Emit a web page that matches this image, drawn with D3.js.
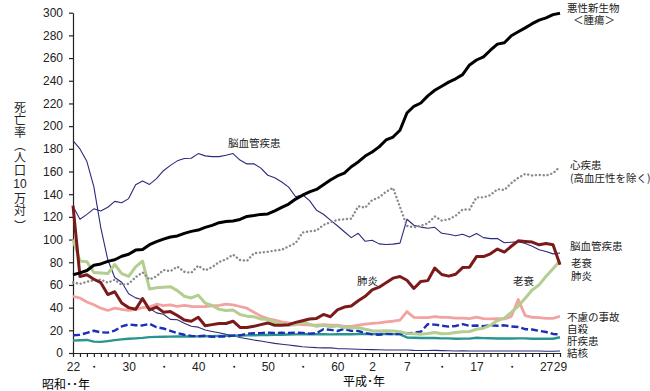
<!DOCTYPE html>
<html>
<head>
<meta charset="utf-8">
<script src="https://cdn.jsdelivr.net/npm/d3@7"></script>
<style>
  body { margin: 0; background: #fff; }
  svg { display: block; }
  .vert { writing-mode: vertical-rl; }
</style>
</head>
<body>
<svg width="650" height="391"></svg>
<script>
/*------------------------
  ------ VARIABLES -------
  ------------------------*/

// years : 昭和22 (1947) -> 平成29 (2017)
var years = d3.range(1947, 2018);

// x tick labels
var tick_years  = [1947, 1950, 1955, 1960, 1965, 1970, 1975, 1980, 1985, 1990, 1995, 2000, 2005, 2010, 2015, 2017];
var tick_labels = ["22", "・", "30", "・", "40", "・", "50", "・", "60", "2", "7", "・", "17", "・", "27", "29"];

// y ticks
var y_ticks = d3.range(0, 301, 20);

// death rates (per 100 000), one value per year
var cancer = [69.0,70.6,72.7,77.4,78.5,80.8,82.2,85.3,87.1,90.7,
              91.3,95.5,98.2,100.4,102.3,103.2,105.5,107.2,108.4,110.7,
              112.5,114.9,115.9,116.3,117.7,120.4,121.2,122.2,122.6,125.3,
              128.4,131.3,135.7,139.1,142.0,144.2,148.3,152.5,156.1,158.5,
              164.2,168.4,173.6,177.2,181.7,187.8,190.4,196.4,211.6,217.5,
              220.4,226.7,231.6,235.2,238.8,241.7,245.4,253.9,258.3,261.0,
              266.9,272.3,273.5,279.7,283.2,286.6,290.3,293.5,295.5,298.3,
              299.5];
var heart = [62.2,60.9,62.8,64.2,64.7,62.0,64.6,60.1,60.9,66.9,
             71.1,64.8,67.6,73.2,72.1,76.2,71.6,70.7,77.0,72.8,
             75.7,80.2,82.6,86.7,82.0,81.2,87.9,88.6,89.2,90.3,
             91.0,94.0,96.9,106.2,107.3,107.9,112.9,115.2,117.3,117.9,
             118.4,129.4,128.1,134.8,137.2,142.2,145.6,128.6,112.0,110.8,
             112.2,114.3,120.4,116.8,117.8,121.0,126.5,126.5,137.2,137.2,
             139.2,144.4,143.7,149.8,154.5,157.9,156.5,157.0,156.5,158.4,
             164.3];
var cerebro = [129.4,117.9,122.2,127.1,125.2,128.5,133.7,132.4,136.1,148.4,
               151.7,148.6,153.7,160.7,165.4,169.4,171.4,171.7,175.8,173.8,
               173.1,173.1,174.4,175.8,170.1,166.7,166.9,163.0,156.7,154.5,
               150.7,146.2,137.7,139.5,134.3,125.9,122.3,117.2,112.2,106.9,
               101.7,105.5,98.5,99.4,96.2,95.6,96.0,96.9,117.9,112.6,
               111.0,110.0,110.8,105.5,104.7,103.4,104.7,102.3,105.3,101.7,
               100.8,100.9,97.2,97.7,98.2,96.5,94.1,91.1,89.4,87.4,
               88.2];
var pneumonia = [130.0,67.5,69.0,65.0,62.0,51.5,54.0,44.0,40.0,38.5,
                 48.0,38.0,40.5,36.0,36.5,33.0,29.0,28.0,31.5,24.0,
                 25.0,26.0,26.0,28.0,22.5,22.5,23.5,25.0,26.5,24.5,
                 24.5,25.0,27.0,28.5,30.0,30.5,34.0,32.0,38.0,40.5,
                 41.5,46.0,50.0,55.6,58.0,62.0,66.0,67.4,64.1,56.9,
                 63.1,63.8,74.9,69.2,67.8,69.4,75.3,75.7,85.0,85.0,
                 87.4,91.6,89.0,94.1,98.9,98.4,97.8,95.4,96.5,95.4,
                 77.7];
var senility = [100.0,81.0,80.5,71.0,70.5,70.0,78.0,70.0,67.5,76.0,
                81.0,56.5,57.5,58.0,58.5,55.0,50.0,48.5,51.0,44.0,
                42.0,38.5,37.5,38.0,34.0,32.5,32.0,30.0,29.5,27.5,
                25.5,24.5,25.0,27.5,25.5,23.5,24.5,23.0,24.0,22.5,
                22.0,22.5,21.0,19.7,19.5,19.7,19.3,18.8,17.3,16.9,
                16.5,17.1,18.1,16.9,17.2,18.0,18.7,19.0,20.9,21.9,
                24.4,28.6,30.7,35.9,41.4,48.2,55.5,60.1,67.7,74.2,
                81.3];
var accident = [50.0,48.5,45.0,42.5,39.5,37.5,39.5,38.5,37.5,38.5,
                40.0,40.5,43.0,41.7,42.5,41.0,42.0,41.0,40.9,41.0,
                41.5,42.0,43.0,42.5,41.0,39.5,36.0,32.5,30.3,29.0,
                27.5,26.5,25.5,25.1,24.5,24.5,25.0,24.5,24.6,23.5,
                23.5,24.5,25.5,26.2,26.5,27.5,28.0,29.0,36.5,31.4,
                31.1,31.1,32.0,31.4,31.4,30.7,30.7,30.3,31.6,30.3,
                30.1,30.3,30.0,32.2,47.1,33.0,31.5,31.1,30.6,30.6,
                32.4];
var suicide = [15.7,16.0,17.8,19.6,18.2,18.0,19.8,23.4,25.2,24.5,
               24.3,25.7,22.7,21.6,19.6,17.5,16.1,15.1,14.7,15.2,
               14.2,14.5,14.5,15.3,15.6,17.0,17.4,17.5,18.0,17.6,
               17.9,17.6,18.0,17.7,17.1,17.5,21.0,20.4,19.4,21.2,
               19.6,19.4,17.7,16.4,16.1,16.9,16.6,16.9,17.2,17.8,
               18.8,25.4,25.0,24.1,23.3,23.8,25.5,24.0,24.2,23.7,
               24.4,24.0,24.4,23.4,22.9,21.0,20.7,19.5,18.5,16.8,
               16.4];
var liver = [10.9,11.2,11.5,10.0,9.8,10.5,11.3,12.0,12.6,12.9,
             13.3,14.0,14.2,14.3,14.4,14.5,14.6,14.6,14.7,14.8,
             14.9,15.0,15.1,15.2,15.4,15.5,15.6,15.8,15.9,16.0,
             16.1,16.3,16.4,16.5,16.6,16.5,16.5,16.4,16.5,16.6,
             16.5,16.6,16.7,16.9,16.8,16.8,16.6,16.4,13.7,13.4,
             13.2,13.2,13.2,12.9,12.9,12.6,12.7,12.7,13.5,13.1,
             13.0,12.8,12.8,12.8,12.9,12.9,12.6,12.6,12.6,12.6,
             13.9];
var tuberculosis = [187.2,179.9,168.8,146.4,110.3,82.2,66.5,62.4,52.3,48.6,
                    46.9,39.4,35.4,34.2,29.6,29.3,26.3,23.6,22.8,20.3,
                    19.0,17.8,16.4,15.4,13.7,12.5,11.4,10.6,9.5,8.5,
                    7.7,7.0,6.3,5.5,5.1,4.7,4.5,4.5,3.9,3.8,
                    3.5,3.3,3.1,3.0,2.8,2.7,2.6,2.6,2.6,2.3,
                    2.2,2.2,2.3,2.1,2.0,1.8,1.9,1.8,1.8,1.8,
                    1.7,1.8,1.7,1.7,1.7,1.7,1.7,1.7,1.5,1.5,
                    1.8];

// display settings
var margin = {left: 73, right: 560, top: 12.7, bottom: 353};
var font_num = "'Liberation Sans', Arial, sans-serif";
var font_jp  = "'Noto Sans CJK JP', sans-serif";

// drawing order, styles
var series = [
    {values: tuberculosis, color: "#2b2b7c", width: 1.1, dash: null},
    {values: cerebro,      color: "#2b2b7c", width: 1.1, dash: null},
    {values: liver,        color: "#2a9590", width: 2.4, dash: null},
    {values: suicide,      color: "#1c2fb8", width: 2.4, dash: "7 3"},
    {values: accident,     color: "#f3a2a2", width: 2.8, dash: null},
    {values: senility,     color: "#b4cd90", width: 3,   dash: null},
    {values: heart,        color: "#8a8a8a", width: 2.4, dash: "0.1 3.8", cap: "round"},
    {values: pneumonia,    color: "#7c1a1a", width: 3,   dash: null},
    {values: cancer,       color: "#000000", width: 3,   dash: null}
];

// labels, one text block per group of stacked lines
var label_blocks = [
    [{t: "悪性新生物", x: 567, y: 6.5}, {t: "＜腫瘍＞", x: 573, y: 18.5}],
    [{t: "心疾患", x: 570, y: 163.5}, {t: "(高血圧性を除く)", x: 570, y: 177}],
    [{t: "脳血管疾患", x: 570, y: 245}],
    [{t: "老衰", x: 571, y: 262}, {t: "肺炎", x: 571, y: 274.5}],
    [{t: "不慮の事故", x: 567, y: 316}, {t: "自殺", x: 567, y: 327.5},
     {t: "肝疾患", x: 567, y: 339.5}, {t: "結核", x: 567, y: 352}],
    [{t: "脳血管疾患", x: 228, y: 142}],
    [{t: "肺炎", x: 357, y: 280}],
    [{t: "老衰", x: 513, y: 280}]
];

// y title : vertical runs + the horizontal "10"
var y_title_runs = [
    {t: "死亡率（人口", y: 101, vertical: true},
    {t: "10",          y: 184, vertical: false},
    {t: "万対 ）",      y: 192, vertical: true}
];

var x = d3.scaleLinear().domain([1947, 2017]).range([margin.left, margin.right]);
var y = d3.scaleLinear().domain([0, 300]).range([margin.bottom, margin.top]);

/*------------------------
  -------- DRAW ----------
  ------------------------*/

var svg = d3.select("svg");

function display_axes() {
    var xa = svg.append("g")
        .attr("transform", "translate(0," + margin.bottom + ")")
        .call(d3.axisBottom(x)
              .tickValues(years)
              .tickSize(4)
              .tickSizeOuter(0)
              .tickPadding(5)
              .tickFormat(function(d) {
                  var i = tick_years.indexOf(d);
                  return i < 0 ? "" : tick_labels[i];
              }));
    xa.selectAll("text")
        .attr("font-family", font_num)
        .attr("font-size", 12)
        .attr("fill", "#222");

    var ya = svg.append("g")
        .attr("transform", "translate(" + margin.left + ",0)")
        .call(d3.axisLeft(y)
              .tickValues(y_ticks)
              .tickSize(4)
              .tickSizeOuter(0)
              .tickPadding(6));
    ya.selectAll("text")
        .attr("font-family", font_num)
        .attr("font-size", 12)
        .attr("fill", "#222");

    svg.selectAll(".domain, .tick line")
        .attr("stroke", "#222")
        .attr("stroke-width", 1.2);

    // axis titles
    svg.append("text")
        .attr("x", 42).attr("y", 383)
        .attr("font-family", font_jp).attr("font-size", 12)
        .attr("dominant-baseline", "central")
        .text("昭和･･年");
    svg.append("text")
        .attr("x", 343).attr("y", 380)
        .attr("font-family", font_jp).attr("font-size", 12)
        .attr("dominant-baseline", "central")
        .text("平成･年");

    svg.append("g").selectAll("text")
        .data(y_title_runs)
        .enter()
        .append("text")
        .attr("class", function(d) { return d.vertical ? "vert" : null; })
        .attr("x", 20)
        .attr("y", function(d) { return d.y; })
        .attr("text-anchor", function(d) { return d.vertical ? "start" : "middle"; })
        .attr("dominant-baseline", function(d) { return d.vertical ? null : "central"; })
        .attr("letter-spacing", function(d) { return d.vertical ? 0.7 : null; })
        .attr("font-family", function(d) { return d.vertical ? font_jp : font_num; })
        .attr("font-size", 12)
        .attr("fill", "#222")
        .text(function(d) { return d.t; });
}

function display_lines() {
    var line = d3.line()
        .x(function(d, i) { return x(years[i]); })
        .y(function(d) { return y(d); });

    svg.append("g").selectAll("path")
        .data(series)
        .enter()
        .append("path")
        .attr("d", function(s) { return line(s.values); })
        .attr("fill", "none")
        .attr("stroke", function(s) { return s.color; })
        .attr("stroke-width", function(s) { return s.width; })
        .attr("stroke-dasharray", function(s) { return s.dash; })
        .attr("stroke-linecap", function(s) { return s.cap || "butt"; })
        .attr("stroke-linejoin", "round");
}

function display_labels() {
    svg.append("g").selectAll("text")
        .data(label_blocks)
        .enter()
        .append("text")
        .attr("dominant-baseline", "central")
        .attr("font-family", font_jp)
        .attr("font-size", 10.5)
        .attr("fill", "#222")
        .selectAll("tspan")
        .data(function(b) { return b; })
        .enter()
        .append("tspan")
        .attr("x", function(d) { return d.x; })
        .attr("y", function(d) { return d.y; })
        .text(function(d) { return d.t; });
}

/*------------------
  ------ RUN -------
  ------------------*/

display_axes();
display_lines();
display_labels();
</script>
</body>
</html>
